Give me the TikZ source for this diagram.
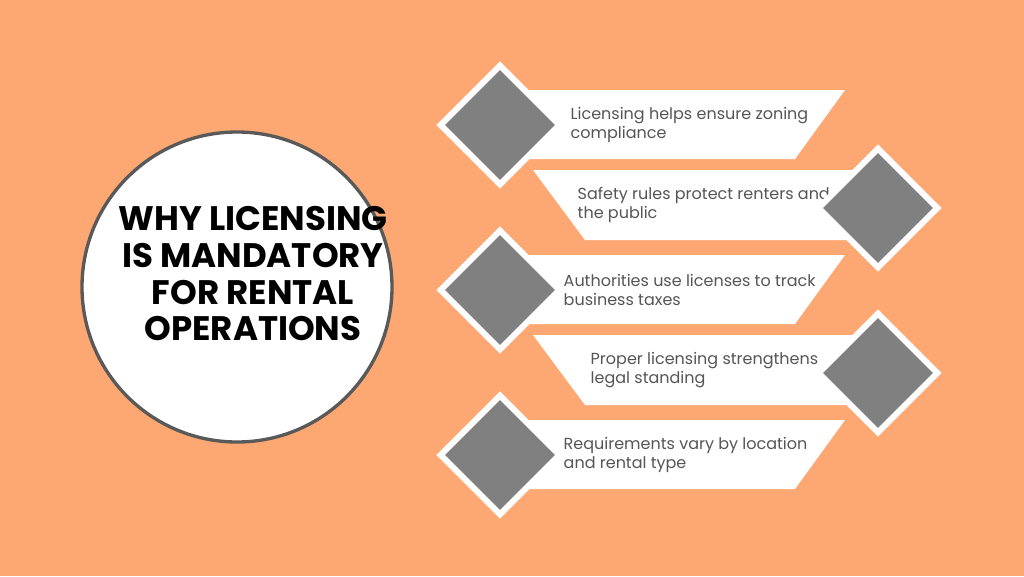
\documentclass[tikz,border=0pt]{standalone}
\usepackage{fontspec}
\setmainfont{Poppins}
\usetikzlibrary{shapes.geometric}
\definecolor{bgorange}{HTML}{FDA872}
\definecolor{diagray}{HTML}{808080}
\definecolor{txtgray}{HTML}{555555}
\tikzset{
  banner/.style={fill=white,draw=none},
  dia/.style={diamond,fill=diagray,draw=white,line width=4.5pt,minimum size=91pt,inner sep=0pt},
  itemtxt/.style={anchor=west,align=left,text=txtgray,font=\fontsize{12}{14.5}\selectfont},
}
\begin{document}
\begin{tikzpicture}[x=0.75pt,y=-0.75pt]
\fill[bgorange] (0,0) rectangle (1024,576);
\useasboundingbox (0,0) rectangle (1024,576);
% title circle
\node[circle,fill=white,draw=black!65,line width=2.5pt,minimum size=310*0.75pt] (title) at (237,287) {};
\node[align=center,font=\bfseries\fontsize{25.5}{27.5}\selectfont] (titletxt) at (253,274)
  {WHY LICENSING\\IS MANDATORY\\FOR RENTAL\\OPERATIONS};
% banners with diamond on the left
\foreach \yc/\xt/\lb [count=\i] in {125/566/{Licensing helps ensure zoning\\compliance},290/559/{Authorities use licenses to track\\business taxes},455/559/{Requirements vary by location\\and rental type}}{
  \fill[banner] (500,\yc-35) -- (845,\yc-35) -- (795,\yc+34) -- (500,\yc+34) -- cycle;
  \node[dia] (dl\i) at (500,\yc) {};
  \node[itemtxt] (tl\i) at (\xt,\yc) {\lb};
}
% banners with diamond on the right
\foreach \yc/\xt/\lb [count=\i] in {208/573/{Safety rules protect renters and\\the public},373/586/{Proper licensing strengthens\\legal standing}}{
  \fill[banner] (533,\yc-38) -- (878,\yc-38) -- (878,\yc+32) -- (585,\yc+32) -- cycle;
  \node[itemtxt] (tr\i) at (\xt,\yc-3) {\lb};
  \node[dia] (dr\i) at (878,\yc) {};
}
\end{tikzpicture}
\end{document}
